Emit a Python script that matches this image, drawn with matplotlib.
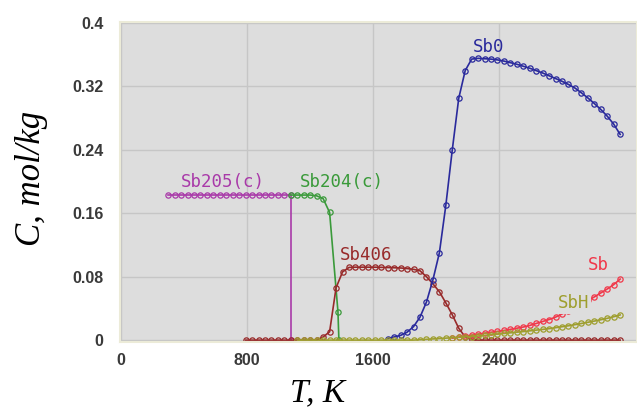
import matplotlib
matplotlib.use("Agg")
import matplotlib.pyplot as plt

# Temperature grid used by the equilibrium calculation, K
temps = [300, 341, 382, 423, 464, 505, 546, 587, 628, 669, 710, 751, 792, 833, 874,
         915, 956, 997, 1038, 1079, 1120, 1161, 1202, 1243, 1284, 1325, 1366, 1407,
         1448, 1489, 1530, 1571, 1612, 1653, 1694, 1735, 1776, 1817, 1858, 1899, 1940,
         1981, 2022, 2063, 2104, 2145, 2186, 2227, 2268, 2309, 2350, 2391, 2432, 2473,
         2514, 2555, 2596, 2637, 2678, 2719, 2760, 2801, 2842, 2883, 2924, 2965, 3006,
         3047, 3088, 3129, 3170]

# Sb2O5 condensed: constant, then disappears at 1079 K
sb205_t = temps[:20] + [1079]
sb205_c = [0.183, 0.183, 0.183, 0.183, 0.183, 0.183, 0.183, 0.183, 0.183, 0.183,
           0.183, 0.183, 0.183, 0.183, 0.183, 0.183, 0.183, 0.183, 0.183, 0.183, 0.0]

# Sb2O4 condensed
sb204_t = [1079, 1120, 1161, 1202, 1243, 1284, 1325, 1378, 1384]
sb204_c = [0.183, 0.183, 0.183, 0.183, 0.182, 0.1785, 0.161, 0.036, 0.0]

# Sb4O6 gas
sb406_t = temps[12:]
sb406_c = [0.0, 0.0, 0.0, 0.0, 0.0, 0.0, 0.0, 0.0, 0.0, 0.0, 0.0, 0.0,
           0.004, 0.0105, 0.066, 0.086, 0.0917, 0.092, 0.092, 0.092, 0.092, 0.0918,
           0.0916, 0.0913, 0.091, 0.0903, 0.0893, 0.0875, 0.080, 0.071, 0.061, 0.047,
           0.032, 0.015, 0.004, 0.0005,
           0.0, 0.0, 0.0, 0.0, 0.0, 0.0, 0.0, 0.0, 0.0, 0.0, 0.0, 0.0,
           0.0, 0.0, 0.0, 0.0, 0.0, 0.0, 0.0, 0.0, 0.0, 0.0, 0.0]

# SbO gas
sb0_t = temps[34:]
sb0_c = [0.002, 0.004, 0.006, 0.010, 0.017, 0.029, 0.048, 0.076, 0.110, 0.170,
         0.240, 0.305, 0.340, 0.3545, 0.3555, 0.355, 0.3545, 0.3535, 0.352, 0.350,
         0.348, 0.3455, 0.343, 0.340, 0.337, 0.3335, 0.330, 0.3265, 0.3225, 0.318,
         0.312, 0.3055, 0.2985, 0.291, 0.2825, 0.2725, 0.2595]

# Sb gas
sb_t = temps[44:]
sb_c = [0.0025, 0.0038, 0.005, 0.0062, 0.0075, 0.0087, 0.0099, 0.011, 0.0122,
        0.0136, 0.015, 0.0165, 0.0185, 0.021, 0.0235, 0.026, 0.029, 0.033, 0.037,
        0.041, 0.0455, 0.050, 0.0545, 0.0595, 0.0645, 0.070, 0.077]

# SbH gas
sbh_t = temps[20:]
sbh_c = [0.0, 0.0, 0.0, 0.0, 0.0, 0.0, 0.0, 0.0, 0.0, 0.0, 0.0, 0.0, 0.0, 0.0,
         0.0, 0.0, 0.0, 0.0, 0.0,
         0.0005, 0.001, 0.0015, 0.002, 0.0025, 0.003, 0.0035, 0.004, 0.0045, 0.0052,
         0.006, 0.0068, 0.0076, 0.0084, 0.0092, 0.01, 0.0108, 0.0117, 0.0126, 0.0135,
         0.0145, 0.0157, 0.0169, 0.0181, 0.0195, 0.021, 0.0225, 0.024, 0.0257, 0.0275,
         0.0295, 0.0318]

y_ticks = [0, 0.08, 0.16, 0.24, 0.32, 0.4]
y_labels = ["0", "0.08", "0.16", "0.24", "0.32", "0.4"]
x_ticks = [0, 800, 1600, 2400]
x_labels = ["0", "800", "1600", "2400"]

bg = "#dddddd"
fig = plt.figure(figsize=(6.37, 4.17), dpi=100)
ax = fig.add_axes([120 / 637, 1 - 341.7 / 417, 517 / 637, 320 / 417])
ax.set_facecolor(bg)

# series in drawing order: (T, C, colour, label, label position)
series = [
    (sb205_t, sb205_c, "#a93aa9", "Sb205(c)", (650, 0.1998)),
    (sb204_t, sb204_c, "#3a9a3a", "Sb204(c)", (1405, 0.1998)),
    (sb406_t, sb406_c, "#982a2a", "Sb406", (1560, 0.107)),
    (sb0_t, sb0_c, "#2a2a9c", "Sb0", (2335, 0.370)),
    (sb_t, sb_c, "#f0384a", "Sb", (3031, 0.0946)),
    (sbh_t, sbh_c, "#9e9e2e", "SbH", (2872, 0.0463)),
]

for t, c, col, name, pos in series:
    ax.plot(t, c, color=col, lw=1.2, marker="o", ms=3.8, mfc="none", mew=0.9)
    kw = {}
    if name == "SbH":
        # label box hides the Sb line behind it, as in the original
        kw["bbox"] = dict(facecolor=bg, edgecolor="none", pad=1.5)
    ax.text(pos[0], pos[1], name, color=col, ha="center", va="center",
            family="DejaVu Sans Mono", fontsize=12.5, zorder=5, **kw)

ax.set_xlim(-6, 3277)
ax.set_ylim(-0.002, 0.4017)
ax.set_xticks(x_ticks)
ax.set_xticklabels(x_labels)
ax.set_yticks(y_ticks)
ax.set_yticklabels(y_labels)
ax.grid(True, color="#c6c6c6", lw=1)
ax.set_axisbelow(True)
ax.tick_params(length=0, labelsize=11.5, labelcolor="#3a3a3a")
ax.tick_params(axis="y", pad=12)
ax.tick_params(axis="x", pad=8)
for lab in ax.get_xticklabels() + ax.get_yticklabels():
    lab.set_family(["Liberation Sans", "DejaVu Sans"])
    lab.set_weight("bold")
for sp in ax.spines.values():
    sp.set_color("#ecebd8")
    sp.set_linewidth(1.5)

fig.text(32 / 637, 1 - 178 / 417, "C, mol/kg", rotation=90, ha="center", va="center",
         family="Liberation Serif", style="italic", fontsize=25)
fig.text(318 / 637, 1 - 393 / 417, "T, K", ha="center", va="center",
         family="Liberation Serif", style="italic", fontsize=24)

fig.savefig("out.png", dpi=100, facecolor="white")
